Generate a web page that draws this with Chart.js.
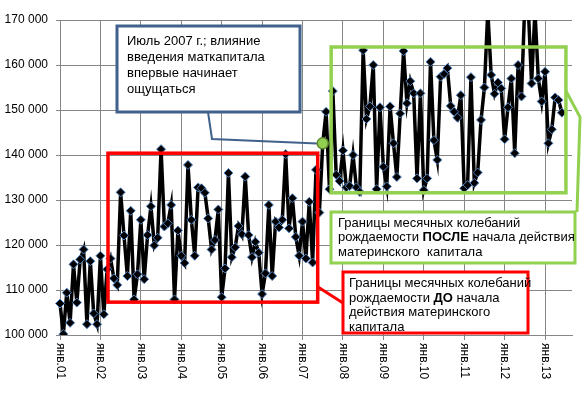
<!DOCTYPE html>
<html>
<head>
<meta charset="utf-8">
<script src="https://cdn.jsdelivr.net/npm/chart.js@4.4.1/dist/chart.umd.min.js"></script>
<style>
  html, body { margin: 0; padding: 0; background: #fff; }
</style>
</head>
<body>
<canvas id="birthsChart" width="585" height="394"></canvas>
<script>
// monthly births, Russia (clipped peaks estimated)
const years = ['01', '02', '03', '04', '05', '06', '07', '08', '09', '10', '11', '12', '13'];
const months = ['янв', 'фев', 'мар', 'апр', 'май', 'июн', 'июл', 'авг', 'сен', 'окт', 'ноя', 'дек'];

const births2001 = [107000, 100200, 109400, 102700, 115700, 107200, 116800, 119000, 102400, 116400, 104800, 102400];
const births2002 = [117600, 104600, 114600, 117000, 112600, 111100, 131700, 122100, 113100, 127600, 107900, 113500];
const births2003 = [125600, 112400, 122200, 128600, 119900, 121600, 141300, 124100, 124800, 128900, 107900, 123200];
const births2004 = [117600, 116000, 137800, 125600, 117600, 132800, 132600, 131600, 125900, 119000, 121100, 127900];
const births2005 = [108400, 114800, 136000, 117300, 119500, 124200, 122400, 135200, 122200, 117300, 120700, 118300];
const births2006 = [109100, 113700, 128900, 113100, 125200, 123900, 125600, 140200, 123700, 130400, 121800, 117600];
const births2007 = [125200, 117000, 129600, 116100, 136700, 127200, 142600, 149600, 132400, 154200, 135600, 134200];
const births2008 = [141000, 132800, 133100, 140000, 132800, 131800, 163300, 148000, 150800, 160000, 132400, 150600];
const births2009 = [137400, 133000, 150800, 142600, 135100, 149200, 163100, 151500, 156400, 153700, 134800, 153700];
const births2010 = [132200, 134800, 160700, 143300, 138900, 157400, 158000, 159300, 150900, 149600, 148300, 153300];
const births2011 = [132600, 133300, 157300, 133800, 136100, 147800, 155000, 172000, 157800, 153600, 156100, 154800];
const births2012 = [143500, 150600, 157000, 140400, 160000, 153000, 174000, 173000, 155900, 172000, 157000, 151900];
const births2013 = [158500, 142600, 145700, 152800, 152200, 149400];

const yMin = 100000, yMax = 170000, yStep = 10000;
const trailingMonths = 3; // empty slots at the right end of the axis

const births = [].concat(births2001, births2002, births2003, births2004, births2005, births2006,
  births2007, births2008, births2009, births2010, births2011, births2012, births2013);
const labels = [];
years.forEach(yy => months.forEach(m => labels.push(m + '.' + yy)));
labels.length = births.length + trailingMonths;
const series = births.concat(new Array(trailingMonths).fill(null));

const markIndex = 6 * 12 + 6; // июль 2007

const gridGray = '#868686';
const font = '"Liberation Sans", Arial, sans-serif';

function textRuns(ctx, x, y, runs) {
  runs.forEach(([t, bold]) => {
    ctx.font = (bold ? 'bold ' : '') + '13px ' + font;
    ctx.fillText(t, x, y);
    x += ctx.measureText(t).width;
  });
}

function textBox(ctx, box) {
  ctx.save();
  ctx.fillStyle = '#fff';
  ctx.fillRect(box.x, box.y, box.w, box.h);
  ctx.strokeStyle = box.color;
  ctx.lineWidth = 3;
  ctx.strokeRect(box.x, box.y, box.w, box.h);
  ctx.fillStyle = '#000';
  ctx.textAlign = 'left';
  ctx.textBaseline = 'middle';
  box.lines.forEach((runs, k) => textRuns(ctx, box.tx, box.ty + k * box.lh, runs));
  ctx.restore();
}

function polyline(ctx, pts, color, w) {
  ctx.save();
  ctx.strokeStyle = color;
  ctx.lineWidth = w;
  ctx.beginPath();
  pts.forEach(([px, py], k) => k ? ctx.lineTo(px, py) : ctx.moveTo(px, py));
  ctx.stroke();
  ctx.restore();
}

const annotations = {
  id: 'annotations',
  afterDraw(chart) {
    const { ctx, chartArea, scales: { x, y } } = chart;

    // year labels, rotated clockwise
    ctx.save();
    ctx.fillStyle = '#000';
    ctx.font = '12px ' + font;
    ctx.textAlign = 'left';
    ctx.textBaseline = 'middle';
    labels.forEach((l, i) => {
      if (i % 12 !== 0) return;
      ctx.save();
      ctx.translate(x.getPixelForValue(i), chartArea.bottom + 8);
      ctx.rotate(Math.PI / 2);
      ctx.fillText(l, 0, 0);
      ctx.restore();
    });
    ctx.restore();

    // bounds of fluctuations, in data coordinates
    const rect = (i0, i1, v0, v1, color) => {
      ctx.save();
      ctx.strokeStyle = color;
      ctx.lineWidth = 3.5;
      const x0 = x.getPixelForValue(i0), x1 = x.getPixelForValue(i1);
      const y0 = y.getPixelForValue(v0), y1 = y.getPixelForValue(v1);
      ctx.strokeRect(x0, y1, x1 - x0, y0 - y1);
      ctx.restore();
    };
    rect(14.25, 76.5, 107300, 140400, '#FF0000');
    rect(80.5, 150.2, 131600, 164000, '#92D050');

    // callouts
    polyline(ctx, [[208, 112], [212, 139], [317, 143.5]], '#3F618C', 2);
    polyline(ctx, [[318, 287], [343, 303]], '#FF0000', 3);
    polyline(ctx, [[566, 91], [580, 117], [577, 212]], '#92D050', 3);

    // July 2007 mark
    const pt = chart.getDatasetMeta(0).data[markIndex];
    ctx.save();
    ctx.beginPath();
    ctx.arc(pt.x, pt.y, 5.5, 0, Math.PI * 2);
    ctx.fillStyle = '#92D050';
    ctx.fill();
    ctx.strokeStyle = '#5E8A2E';
    ctx.lineWidth = 1.5;
    ctx.stroke();
    ctx.restore();

    textBox(ctx, {
      x: 117, y: 26, w: 183, h: 86, color: '#3F618C', tx: 127, ty: 41, lh: 16.3,
      lines: [[['Июль 2007 г.; влияние']], [['введения маткапитала']], [['впервые начинает']], [['ощущаться']]]
    });
    textBox(ctx, {
      x: 331, y: 212, w: 244, h: 51, color: '#92D050', tx: 338, ty: 223, lh: 14.5,
      lines: [[['Границы месячных колебаний']],
              [['рождаемости '], ['ПОСЛЕ', true], [' начала действия']],
              [['материнского  капитала']]]
    });
    textBox(ctx, {
      x: 343, y: 272, w: 185, h: 61, color: '#FF0000', tx: 349, ty: 283.5, lh: 14.5,
      lines: [[['Границы месячных колебаний']],
              [['рождаемости '], ['ДО', true], [' начала']],
              [['действия материнского']],
              [['капитала']]]
    });
  }
};

new Chart(document.getElementById('birthsChart'), {
  type: 'line',
  data: {
    labels,
    datasets: [{
      data: series,
      borderColor: '#000',
      borderWidth: 3.5,
      tension: 0,
      pointStyle: 'rectRot',
      pointRadius: 4.5,
      pointBackgroundColor: '#000',
      pointBorderColor: '#4F81BD',
      pointBorderWidth: 1
    }]
  },
  options: {
    responsive: false,
    animation: false,
    layout: { padding: { top: 20, right: 13, left: 0, bottom: 0 } },
    scales: {
      x: {
        type: 'category',
        offset: false,
        grid: {
          color: c => c.index % 12 === 0 ? gridGray : 'transparent',
          tickColor: c => c.index % 12 === 0 ? gridGray : 'transparent',
          tickLength: 5
        },
        border: { color: gridGray },
        ticks: { display: false, autoSkip: false },
        afterFit: s => { s.height = 59; }
      },
      y: {
        min: yMin,
        max: yMax,
        grid: { color: gridGray, tickColor: gridGray, tickLength: 4 },
        border: { color: gridGray },
        ticks: {
          stepSize: yStep,
          padding: 8,
          color: '#000',
          font: { family: font, size: 12 },
          callback: v => Math.round(v / 1000) + ' 000'
        },
        afterFit: s => { s.width = 60; }
      }
    },
    plugins: { legend: { display: false }, tooltip: { enabled: false } }
  },
  plugins: [annotations]
});
</script>
</body>
</html>
